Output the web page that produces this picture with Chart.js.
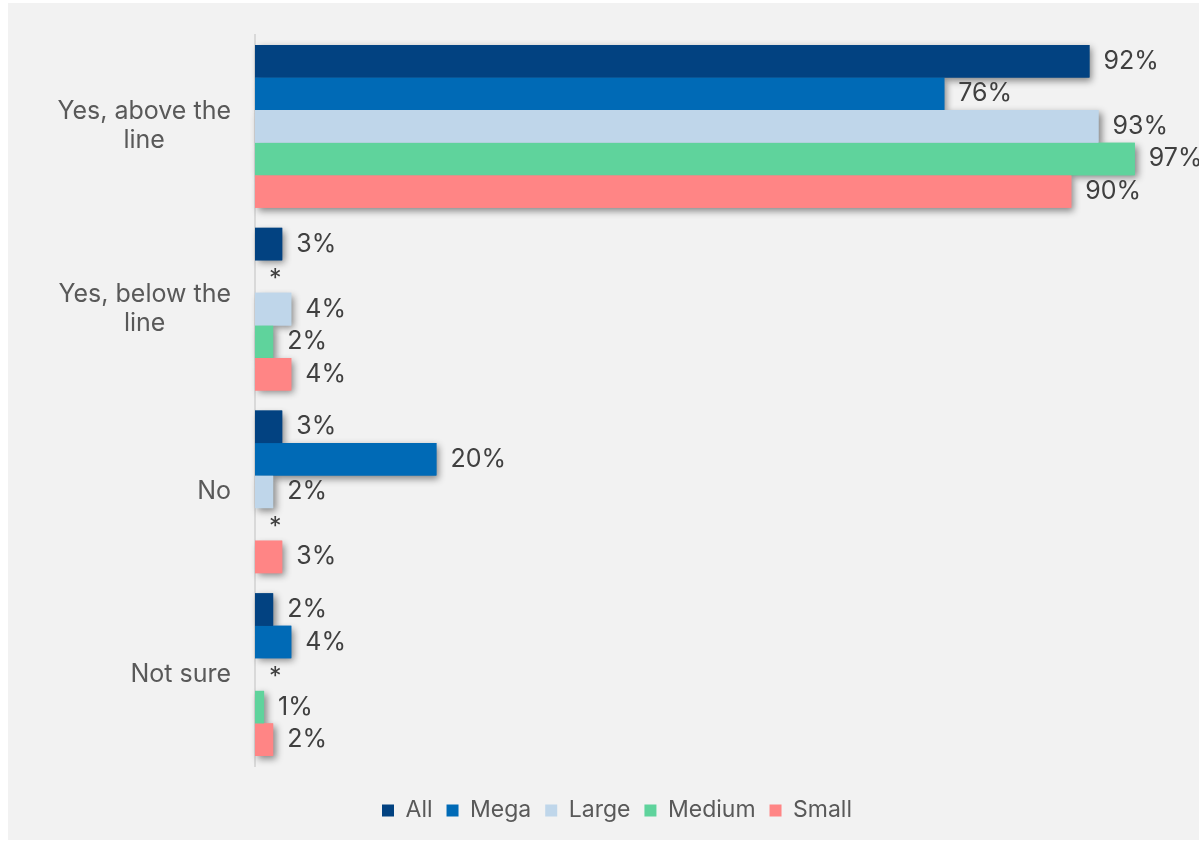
<!DOCTYPE html>
<html>
<head>
<meta charset="utf-8">
<script src="https://cdn.jsdelivr.net/npm/chart.js@4.4.1/dist/chart.umd.min.js"></script>
<style>
  body { margin: 0; background: #ffffff; }
  #wrap { position: absolute; left: 8px; top: 3px; width: 1191px; height: 837px; background: #f2f2f2; }
</style>
</head>
<body>
<div id="wrap"><canvas id="chart" width="1191" height="837"></canvas></div>
<script>
// answers per company size, in percent; null = below 0.5% (shown as "*")
var categories = [['Yes, above the', 'line'], ['Yes, below the', 'line'], ['No'], ['Not sure']];
var seriesNames = ['All', 'Mega', 'Large', 'Medium', 'Small'];
var allValues = [92, 3, 3, 2];
var megaValues = [76, null, 20, 4];
var largeValues = [93, 4, 2, null];
var mediumValues = [97, 2, null, 1];
var smallValues = [90, 4, 3, 2];
var seriesColors = ['#024281', '#006ab6', '#bfd6ea', '#5fd39c', '#ff8585'];

var FONT = 'Inter, "DejaVu Sans", sans-serif';

// draw every bar once with a drop shadow underneath the real bars
var barShadow = {
    id: 'barShadow',
    beforeDatasetsDraw: function (chart) {
        var ctx = chart.ctx;
        ctx.save();
        ctx.shadowColor = 'rgba(0, 0, 0, 0.45)';
        ctx.shadowBlur = 7;
        ctx.shadowOffsetX = 3;
        ctx.shadowOffsetY = 3;
        chart.getSortedVisibleDatasetMetas().forEach(function (meta) {
            meta.data.forEach(function (el, i) {
                if (meta.controller.getDataset().data[i] === null) return;
                el.draw(ctx);
            });
        });
        ctx.restore();
    }
};

// value labels at the end of each bar
var valueLabels = {
    id: 'valueLabels',
    afterDatasetsDraw: function (chart) {
        var ctx = chart.ctx;
        var xScale = chart.scales.x;
        ctx.save();
        ctx.font = '25px ' + FONT;
        ctx.fillStyle = '#404040';
        ctx.textAlign = 'left';
        ctx.textBaseline = 'middle';
        chart.getSortedVisibleDatasetMetas().forEach(function (meta) {
            var values = meta.controller.getDataset().data;
            meta.data.forEach(function (el, i) {
                var v = values[i];
                var x = xScale.getPixelForValue(v === null ? 0 : v);
                ctx.fillText(v === null ? '*' : v + '%', x + 14, el.y + (v === null ? 3 : 0));
            });
        });
        ctx.restore();
    }
};

// category names: block right-aligned to the axis, lines centred in the block
var categoryLabels = {
    id: 'categoryLabels',
    afterDraw: function (chart) {
        var ctx = chart.ctx;
        var yScale = chart.scales.y;
        var right = chart.chartArea.left - 24;
        var lineHeight = 29;
        ctx.save();
        ctx.font = '25px ' + FONT;
        ctx.fillStyle = '#595959';
        ctx.textAlign = 'center';
        ctx.textBaseline = 'middle';
        categories.forEach(function (lines, i) {
            var w = Math.max.apply(null, lines.map(function (l) { return ctx.measureText(l).width; }));
            var cx = right - w / 2;
            var y0 = yScale.getPixelForValue(i) - (lines.length - 1) * lineHeight / 2;
            lines.forEach(function (l, j) {
                ctx.fillText(l, cx, y0 + j * lineHeight);
            });
        });
        ctx.restore();
    }
};

var seriesData = [allValues, megaValues, largeValues, mediumValues, smallValues];

new Chart(document.getElementById('chart'), {
    type: 'bar',
    data: {
        labels: categories.map(function (c) { return c.join(' '); }),
        datasets: seriesNames.map(function (name, i) {
            return {
                label: name,
                data: seriesData[i],
                backgroundColor: seriesColors[i],
                borderWidth: 0,
                categoryPercentage: 0.89,
                barPercentage: 1.0
            };
        })
    },
    options: {
        indexAxis: 'y',
        responsive: false,
        animation: false,
        layout: { padding: { left: 64, right: 37, top: 32, bottom: 8 } },
        scales: {
            x: { display: false, min: 0, max: 100 },
            y: {
                grid: { display: false, drawTicks: false },
                border: { display: true, color: '#d9d9d9', width: 2 },
                ticks: { display: false },
                // room for the category names drawn by categoryLabels
                afterFit: function (scale) { scale.width = 183; }
            }
        },
        plugins: {
            legend: {
                position: 'bottom',
                title: { display: true, text: '', font: { size: 10 }, padding: { top: 7, bottom: 0 } },
                labels: {
                    boxWidth: 12,
                    boxHeight: 12,
                    padding: 14,
                    color: '#595959',
                    font: { family: FONT, size: 23 }
                }
            },
            tooltip: { enabled: false }
        }
    },
    plugins: [barShadow, valueLabels, categoryLabels]
});
</script>
</body>
</html>
